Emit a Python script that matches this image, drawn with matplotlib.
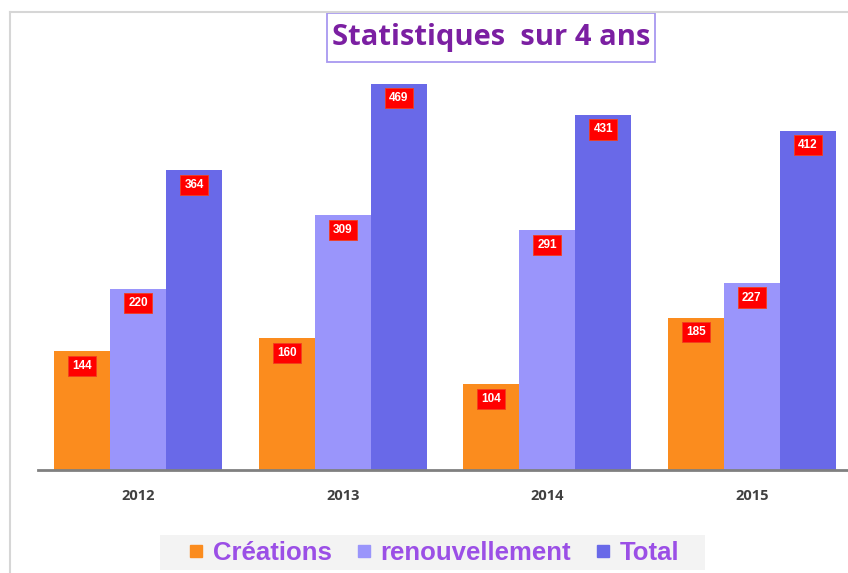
import matplotlib
matplotlib.use("Agg")
import matplotlib.pyplot as plt
from matplotlib.lines import Line2D
from matplotlib.patches import Rectangle
import numpy as np

years = ["2012", "2013", "2014", "2015"]
creations = [144, 160, 104, 185]
renouvellement = [220, 309, 291, 227]
total = [364, 469, 431, 412]
series_names = ["Créations", "renouvellement", "Total"]
colors = ["#FB8C1E", "#9A95FB", "#6969E8"]

W, H = 848, 573
fig = plt.figure(figsize=(W / 100, H / 100), dpi=100)
fig.patch.set_facecolor("white")

def fx(px):
    return px / W

def fy(py):
    return 1 - py / H

# chart frame
fig.add_artist(Line2D([fx(10), fx(10)], [fy(12), 0], color="#d6d6d6", lw=1.5))
fig.add_artist(Line2D([fx(10), 1], [fy(12), fy(12)], color="#d6d6d6", lw=1.5))

ax_left, ax_right = 38, 848
ax_top, ax_bot = 60, 470
ax = fig.add_axes([fx(ax_left), fy(ax_bot), (ax_right - ax_left) / W, (ax_bot - ax_top) / H])
ax.set_facecolor("none")

x = np.arange(len(years))
bw = 0.274
series = [creations, renouvellement, total]
for i, (vals, c) in enumerate(zip(series, colors)):
    xs = x + (i - 1) * bw
    ax.bar(xs, vals, width=bw, color=c, edgecolor="none", zorder=2)
    for xi, v in zip(xs, vals):
        ax.annotate(str(v), (xi, v), xytext=(0, -10.5), textcoords="offset points",
                    ha="center", va="center", color="white", fontsize=8.5,
                    fontweight="bold", family="Liberation Sans",
                    bbox=dict(boxstyle="square,pad=0.35", fc="#FF0000", ec="#F04020", lw=0.6),
                    zorder=4)

ax.set_xlim(-0.49, 3.47)
ax.set_ylim(0, (ax_bot - ax_top) / 0.824)
ax.set_xticks(x)
ax.set_xticklabels(years, fontsize=10.5, fontweight="bold", color="#404040", family="Open Sans")
ax.tick_params(axis="x", length=0, pad=14)
ax.set_yticks([])
for s in ["top", "right", "left"]:
    ax.spines[s].set_visible(False)
ax.spines["bottom"].set_color("#808080")
ax.spines["bottom"].set_linewidth(2)

# title
fig.text(fx(491), fy(38), "Statistiques  sur 4 ans", ha="center", va="center",
         fontsize=21, fontweight="bold", color="#7B1FA2", family="Open Sans")
fig.add_artist(Rectangle((fx(327), fy(62)), fx(655 - 327), (62 - 13) / H,
                         fill=False, ec="#A898F0", lw=1.3))

# legend
fig.add_artist(Rectangle((fx(160), fy(570)), fx(705 - 160), (570 - 535) / H,
                         fc="#F3F3F3", ec="none"))
handles = [Line2D([], [], marker="s", ls="none", markersize=9, color=c) for c in colors]
leg = fig.legend(handles, series_names, loc="center", bbox_to_anchor=(fx(434), fy(553)),
                 ncol=3, frameon=False, handlelength=0.6, handletextpad=0.35,
                 columnspacing=0.95,
                 prop=dict(family="Liberation Sans", weight="bold", size=18.5))
for t in leg.get_texts():
    t.set_color("#9B4FE6")

fig.savefig("out.png", dpi=100)
